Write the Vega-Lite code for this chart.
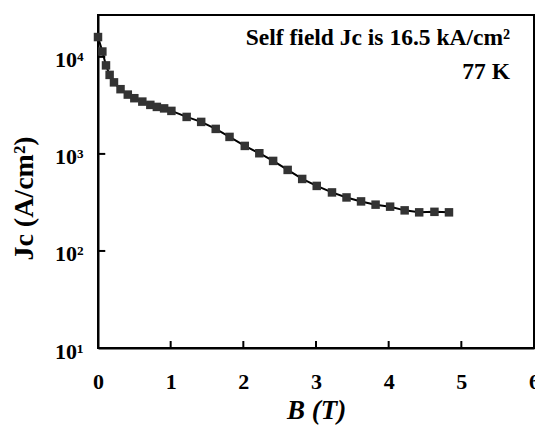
{
  "$schema": "https://vega.github.io/schema/vega-lite/v6.json",
  "width": 436,
  "height": 333,
  "autosize": {"type": "none"},
  "padding": {"left": 98, "top": 15, "right": 1, "bottom": 81},
  "background": "white",
  "config": {
    "view": {"stroke": "black", "strokeWidth": 2},
    "font": "Liberation Serif",
    "axis": {
      "grid": false,
      "ticks": false,
      "domainColor": "black",
      "domainWidth": 2,
      "labelFont": "Liberation Serif",
      "labelFontWeight": "bold",
      "labelFontSize": 22,
      "labelColor": "black",
      "labelFlush": false,
      "titleFont": "Liberation Serif",
      "titleFontWeight": "bold",
      "titleFontSize": 25,
      "titleColor": "black"
    }
  },
  "datasets": {
    "jc": [
      {"B": 0.0, "Jc": 16000},
      {"B": 0.06, "Jc": 11350},
      {"B": 0.11, "Jc": 8170},
      {"B": 0.16, "Jc": 6520},
      {"B": 0.22, "Jc": 5460},
      {"B": 0.31, "Jc": 4645},
      {"B": 0.41, "Jc": 4085},
      {"B": 0.5, "Jc": 3750},
      {"B": 0.61, "Jc": 3460},
      {"B": 0.72, "Jc": 3200},
      {"B": 0.81, "Jc": 3050},
      {"B": 0.91, "Jc": 2945},
      {"B": 1.01, "Jc": 2775},
      {"B": 1.22, "Jc": 2405},
      {"B": 1.42, "Jc": 2137},
      {"B": 1.62, "Jc": 1810},
      {"B": 1.81, "Jc": 1497},
      {"B": 2.02, "Jc": 1209},
      {"B": 2.22, "Jc": 1016},
      {"B": 2.41, "Jc": 847},
      {"B": 2.61, "Jc": 684},
      {"B": 2.81, "Jc": 552},
      {"B": 3.01, "Jc": 468},
      {"B": 3.22, "Jc": 401},
      {"B": 3.42, "Jc": 356},
      {"B": 3.62, "Jc": 324},
      {"B": 3.82, "Jc": 300},
      {"B": 4.02, "Jc": 286},
      {"B": 4.22, "Jc": 262},
      {"B": 4.42, "Jc": 250},
      {"B": 4.63, "Jc": 253},
      {"B": 4.83, "Jc": 250}
    ],
    "xticks": [{"B": 1}, {"B": 2}, {"B": 3}, {"B": 4}, {"B": 5}],
    "yticks": [{"Jc": 100}, {"Jc": 1000}, {"Jc": 10000}]
  },
  "layer": [
    {
      "data": {"name": "jc"},
      "mark": {"type": "line", "color": "black", "strokeWidth": 2},
      "encoding": {
        "x": {
          "field": "B", "type": "quantitative",
          "scale": {"domain": [0, 6], "nice": false},
          "axis": {"values": [0, 1, 2, 3, 4, 5, 6], "format": "d", "labelPadding": 23, "title": "B (T)", "titleFontStyle": "italic", "titleFontSize": 27, "titlePadding": 5}
        },
        "y": {
          "field": "Jc", "type": "quantitative",
          "scale": {"type": "log", "domain": [10, 27000], "nice": false},
          "axis": {
            "values": [10, 100, 1000, 10000],
            "labelExpr": "'10' + (datum.value == 10 ? '¹' : datum.value == 100 ? '²' : datum.value == 1000 ? '³' : '⁴')",
            "labelPadding": 15,
            "labelOffset": 3,
            "title": "Jc (A/cm²)",
            "titleFontSize": 28,
            "titlePadding": 16,
            "titleY": 183
          }
        }
      }
    },
    {
      "data": {"name": "jc"},
      "mark": {"type": "point", "shape": "square", "filled": true, "size": 72, "color": "#333333", "opacity": 1},
      "encoding": {
        "x": {"field": "B", "type": "quantitative"},
        "y": {"field": "Jc", "type": "quantitative"}
      }
    },
    {
      "data": {"name": "xticks"},
      "mark": {"type": "rule", "color": "black", "strokeWidth": 2},
      "encoding": {
        "x": {"field": "B", "type": "quantitative"},
        "y": {"datum": 10},
        "y2": {"datum": 11.8}
      }
    },
    {
      "data": {"name": "yticks"},
      "mark": {"type": "rule", "color": "black", "strokeWidth": 2},
      "encoding": {
        "y": {"field": "Jc", "type": "quantitative"},
        "x": {"datum": 0},
        "x2": {"datum": 0.1}
      }
    },
    {
      "data": {"values": [{"B": 5.67, "Jc": 15700, "label": "Self field Jc is 16.5 kA/cm²"}, {"B": 5.67, "Jc": 7000, "label": "77 K"}]},
      "mark": {"type": "text", "align": "right", "baseline": "middle", "font": "Liberation Serif", "fontWeight": "bold", "fontSize": 23.5, "color": "black"},
      "encoding": {
        "x": {"field": "B", "type": "quantitative"},
        "y": {"field": "Jc", "type": "quantitative"},
        "text": {"field": "label"}
      }
    }
  ]
}
